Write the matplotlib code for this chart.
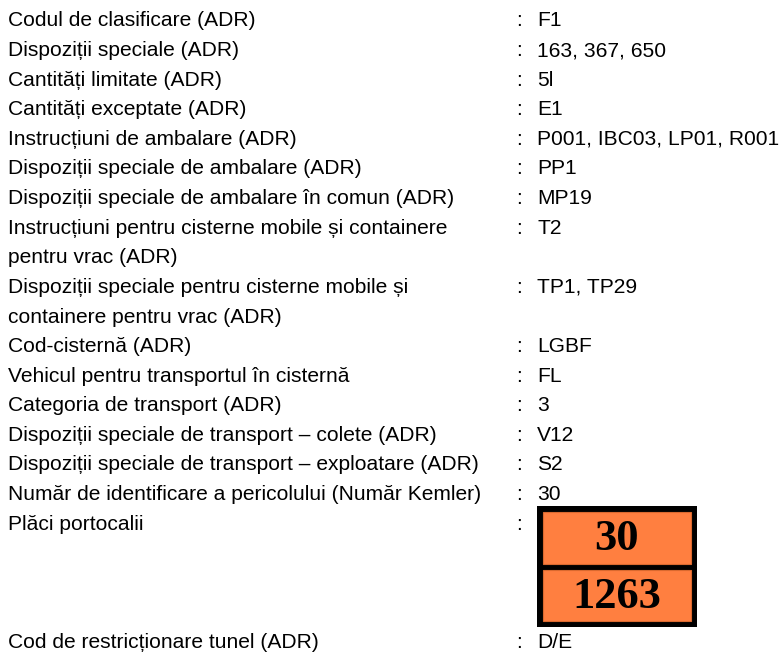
""" ADR transport info block with orange hazard plate
"""
import matplotlib
matplotlib.use('Agg')
import matplotlib.pyplot as plt
from matplotlib.patches import Rectangle

labels = [
    "Codul de clasificare (ADR)",
    "Dispoziții speciale (ADR)",
    "Cantități limitate (ADR)",
    "Cantități exceptate (ADR)",
    "Instrucțiuni de ambalare (ADR)",
    "Dispoziții speciale de ambalare (ADR)",
    "Dispoziții speciale de ambalare în comun (ADR)",
    "Instrucțiuni pentru cisterne mobile și containere\npentru vrac (ADR)",
    "Dispoziții speciale pentru cisterne mobile și\ncontainere pentru vrac (ADR)",
    "Cod-cisternă (ADR)",
    "Vehicul pentru transportul în cisternă",
    "Categoria de transport (ADR)",
    "Dispoziții speciale de transport – colete (ADR)",
    "Dispoziții speciale de transport – exploatare (ADR)",
    "Număr de identificare a pericolului (Număr Kemler)",
    "Plăci portocalii",
    "Cod de restricționare tunel (ADR)",
]
values = [
    "F1", "163, 367, 650", "5l", "E1", "P001, IBC03, LP01, R001", "PP1",
    "MP19", "T2", "TP1, TP29", "LGBF", "FL", "3", "V12", "S2", "30", "", "D/E",
]
plate_row = "Plăci portocalii"
hazard_id = "30"
un_number = "1263"

W, H = 780, 655
row_h = 29.6
y0 = 26.5          # baseline of the first row
x_label, x_colon, x_value = 8, 516, 537
fsize = 15.1
plate_rows = 4     # rows of space taken by the plate

fig = plt.figure(figsize=(W / 100, H / 100), dpi=100)
ax = fig.add_axes([0, 0, 1, 1])
ax.set_xlim(0, W)
ax.set_ylim(H, 0)
ax.axis('off')

font = dict(family=['Liberation Sans', 'DejaVu Sans'], fontsize=fsize, color='black')

row = 0
for lab, val in zip(labels, values):
    yb = y0 + row * row_h
    for k, line in enumerate(lab.split('\n')):
        ax.text(x_label, yb + k * row_h, line, va='baseline', ha='left', **font)
    ax.text(x_colon, yb, ':', va='baseline', ha='left', **font)
    if val:
        ax.text(x_value, yb, val, va='baseline', ha='left', **font)

    if lab == plate_row:
        top = yb - 7.5 - 16
        pw, ph, bw = 160, 121, 6
        ax.add_patch(Rectangle((x_value, top), pw, ph, facecolor='black', edgecolor='none'))
        half = (ph - 3 * bw) / 2
        for j, txt in enumerate([hazard_id, un_number]):
            py = top + bw + j * (half + bw)
            ax.add_patch(Rectangle((x_value + bw, py), pw - 2 * bw, half,
                                   facecolor='#FF7F40', edgecolor='#D9692F', linewidth=0.8))
            ax.text(x_value + pw / 2, py + half / 2 + 1.5, txt, ha='center', va='center',
                    family=['Liberation Serif', 'DejaVu Serif'], weight='bold',
                    fontsize=32, color='black')
        row += plate_rows
    else:
        row += len(lab.split('\n'))

plt.savefig("out.png", dpi=100)
plt.close()
